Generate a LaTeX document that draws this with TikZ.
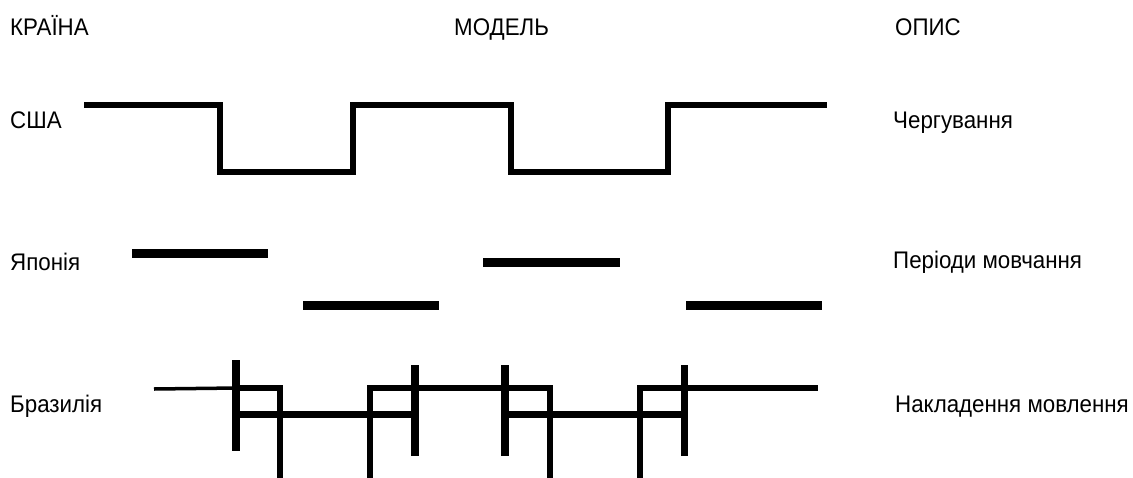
\documentclass[tikz,border=0pt]{standalone}
\usepackage{fontspec}
\setmainfont{Liberation Sans}[FakeStretch=0.93]
\begin{document}
\begin{tikzpicture}[x=1pt,y=-1pt,
  lbl/.style={anchor=base west,inner sep=0pt,font=\fontsize{24}{28}\selectfont},
  usa/.style={line width=6pt},
  jap/.style={line width=9pt},
  bra/.style={line width=6.5pt},
  bar/.style={line width=7.5pt}]
\useasboundingbox (0,0) rectangle (1133,477);
% headers
\node[lbl] (hc) at (10,35) {КРАЇНА};
\node[lbl] (hm) at (454,35) {МОДЕЛЬ};
\node[lbl] (hd) at (895,35) {ОПИС};
% rows left
\node[lbl] (usa) at (10,128) {США};
\node[lbl] (jp) at (10,270) {Японія};
\node[lbl] (br) at (10,412) {Бразилія};
% rows right
\node[lbl] (dusa) at (893,128) {Чергування};
\node[lbl] (djp) at (893,268) {Періоди мовчання};
\node[lbl] (dbr) at (895,412) {Накладення мовлення};
% USA: alternation
\draw[usa] (84,105) -- (220,105) -- (220,172) -- (353,172) -- (353,105)
  -- (511,105) -- (511,172) -- (668,172) -- (668,105) -- (827,105);
% Japan: silence periods
\draw[jap] (132,253) -- (268,253);
\draw[jap] (303,305) -- (439,305);
\draw[jap] (483,262) -- (620,262);
\draw[jap] (686,305) -- (822,305);
% Brazil: overlapping speech
\draw[line width=3.5pt] (154,389) -- (237,388);
\draw[bra] (236,388) -- (280,388) -- (280,478);
\draw[bra] (370,478) -- (370,388) -- (550,388) -- (550,478);
\draw[bra] (640,478) -- (640,388) -- (818,388);
\draw[bra] (236,414.5) -- (415,414.5);
\draw[bra] (505,414.5) -- (684,414.5);
\draw[bar] (236,360) -- (236,451);
\draw[bar] (415,365) -- (415,456);
\draw[bar] (505,365) -- (505,456);
\draw[bar] (684.5,365) -- (684.5,456);
\end{tikzpicture}
\end{document}
